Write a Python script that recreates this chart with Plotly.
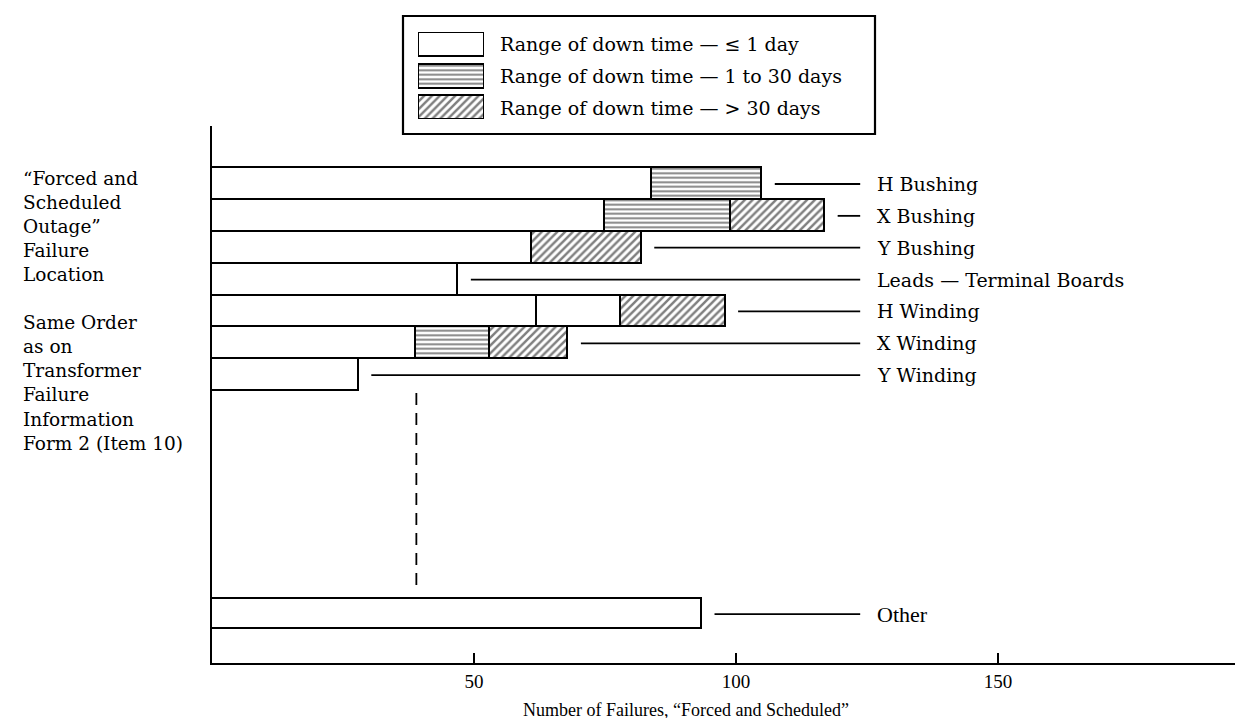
import plotly.graph_objects as go

# ---------------- data ----------------
categories = ["H Bushing", "X Bushing", "Y Bushing", "Leads — Terminal Boards",
              "H Winding", "X Winding", "Y Winding", "Other"]
# Range of down time <= 1 day (first white segment)
le1_a = [84, 75, 61, 47, 62, 39, 28, 93.5]
# second white segment (drawn split on the H Winding bar)
le1_b = [0, 0, 0, 0, 16, 0, 0, 0]
# Range of down time 1 to 30 days
d1_30 = [21, 24, 0, 0, 0, 14, 0, 0]
# Range of down time > 30 days
gt30 = [0, 18, 21, 0, 20, 15, 0, 0]
tick_vals = [50, 100, 150]
tick_text = ["50", "100", "150"]
dashed_x = 39
legend_labels = ["Range of down time — ≤ 1 day",
                 "Range of down time — 1 to 30 days",
                 "Range of down time — > 30 days"]
side_text = ("“Forced and<br>Scheduled<br>Outage”<br>Failure<br>Location<br><br>"
             "Same Order<br>as on<br>Transformer<br>Failure<br>Information<br>Form 2 (Item 10)")
x_title = "Number of Failures, “Forced and Scheduled”"

# ---------------- layout geometry ----------------
W, H = 1243, 718
def px(xp): return xp / W
def py(yp): return 1 - yp / H

n_main = 7
OTHER_GAP = 7.5
y_pos = list(range(n_main)) + [n_main - 1 + OTHER_GAP]
widths = [1.0] * n_main + [0.92]
totals = [a + b + c + d for a, b, c, d in zip(le1_a, le1_b, d1_30, gt30)]

X0_PX, X1_PX, UNIT = 204, 1241, 5.24
xmax = (X1_PX - X0_PX) / UNIT
Y_TOP, Y_BOT, C0, PITCH = 118, 655, 176, 31.86
y_range = [(Y_BOT - C0) / PITCH, (Y_TOP - C0) / PITCH]

SERIF = "DejaVu Serif"
TIMES = "Liberation Serif"
LW = 1.8
FS = 19

def nz(v):
    return [x if x else None for x in v]

white = dict(color="white", line=dict(color="black", width=LW))
hstripe = dict(color="white", line=dict(color="black", width=LW),
               pattern=dict(shape="-", fgcolor="black", bgcolor="white", size=4.5, solidity=0.42))
diag = dict(color="white", line=dict(color="black", width=LW),
            pattern=dict(shape="/", fgcolor="black", bgcolor="white", size=5.5, solidity=0.45))

fig = go.Figure()
for vals, mk in [(le1_a, white), (le1_b, white), (d1_30, hstripe), (gt30, diag)]:
    fig.add_trace(go.Bar(y=y_pos, x=nz(vals), orientation="h", width=widths,
                         marker=mk, showlegend=False, hoverinfo="skip",
                         xaxis="x", yaxis="y"))

# legend swatches (on their own small axes)
for i, mk in enumerate([white, hstripe, diag]):
    m = dict(mk)
    m["line"] = dict(color="black", width=2.2)
    fig.add_trace(go.Bar(y=[i], x=[1], orientation="h", width=0.75, marker=m,
                         showlegend=False, hoverinfo="skip", xaxis="x2", yaxis="y2"))

shapes = []
annotations = []

# legend box
shapes.append(dict(type="rect", xref="paper", yref="paper",
                   x0=px(395), x1=px(867), y0=py(126), y1=py(8),
                   line=dict(color="black", width=2.2), fillcolor="rgba(0,0,0,0)"))
for i, lab in enumerate(legend_labels):
    annotations.append(dict(text=lab, xref="paper", yref="paper",
                            x=px(490), y=py(36 + i * 31.75), xanchor="left", yanchor="middle",
                            showarrow=False, font=dict(family=SERIF, size=FS, color="black")))

# leader lines and labels
for cat, tot, yp in zip(categories, totals, y_pos):
    shapes.append(dict(type="line", xref="x", yref="y", x0=tot + 2.4, x1=123.7,
                       y0=yp, y1=yp, line=dict(color="black", width=1.8)))
    is_other = cat == "Other"
    annotations.append(dict(text=cat, xref="x", yref="y", x=126.5, y=yp,
                            xanchor="left", yanchor="middle", showarrow=False,
                            font=dict(family=TIMES if is_other else SERIF,
                                      size=22 if is_other else FS, color="black")))

# dashed break line
shapes.append(dict(type="line", xref="x", yref="y", x0=dashed_x, x1=dashed_x,
                   y0=n_main - 0.5 + 0.06, y1=y_pos[-1] - widths[-1] / 2 - 0.2,
                   line=dict(color="black", width=1.8, dash="12px,8px")))

# side text
annotations.append(dict(text=side_text, xref="paper", yref="paper", x=px(13), y=py(158),
                        xanchor="left", yanchor="top", align="left", showarrow=False,
                        font=dict(family=SERIF, size=18.5, color="black")))
# x title
annotations.append(dict(text=x_title, xref="paper", yref="paper", x=px(678), y=py(702),
                        xanchor="center", yanchor="middle", showarrow=False,
                        font=dict(family=TIMES, size=18, color="black")))

fig.update_layout(
    width=W, height=H, margin=dict(l=0, r=0, t=0, b=0),
    paper_bgcolor="white", plot_bgcolor="white",
    barmode="stack", bargap=0, showlegend=False,
    xaxis=dict(domain=[px(X0_PX), px(X1_PX)], range=[0, xmax], showgrid=False, zeroline=False,
               showline=True, linecolor="black", linewidth=1.8,
               tickmode="array", tickvals=tick_vals, ticktext=tick_text,
               ticks="inside", ticklen=10, tickwidth=1.8, tickcolor="black",
               tickfont=dict(family=TIMES, size=19, color="black")),
    yaxis=dict(domain=[py(Y_BOT), py(Y_TOP)], range=y_range, showgrid=False, zeroline=False,
               showline=True, linecolor="black", linewidth=1.8, showticklabels=False, ticks=""),
    xaxis2=dict(domain=[px(410), px(476)], range=[0, 1], visible=False, anchor="y2"),
    yaxis2=dict(domain=[py(111), py(24)], range=[2.37, -0.38], visible=False, anchor="x2"),
    shapes=shapes, annotations=annotations,
)

fig.write_html("out.html")
